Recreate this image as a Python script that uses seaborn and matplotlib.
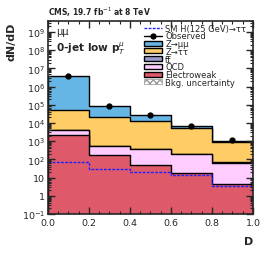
import matplotlib
matplotlib.use("Agg")
import matplotlib.pyplot as plt
import numpy as np
import pandas as pd
import seaborn as sns
from matplotlib.lines import Line2D
from matplotlib.patches import Patch
from matplotlib.ticker import LogLocator, NullFormatter, FixedLocator, FixedFormatter

# Data
edges = [0.0, 0.2, 0.4, 0.6, 0.8, 1.0]
centers = [0.1, 0.3, 0.5, 0.7, 0.9]
electroweak = [2200, 180, 51, 17, 4.2]
qcd = [1800, 370, 330, 180, 62]
ttbar = [100, 20, 10, 5, 2]
ztt = [46000, 20400, 12600, 5100, 832]
zmm = [3950000, 59000, 14000, 1500, 170]
signal = [75, 31, 21, 14, 3.3]
observed = [4.0e6, 9.0e4, 2.7e4, 7.0e3, 1.2e3]

processes = ["Electroweak", "QCD", "ttbar", "Ztt", "Zmm"]
colors = {"Electroweak": "#de5a6a", "QCD": "#ffccff", "ttbar": "#9999cc",
          "Ztt": "#ffcc66", "Zmm": "#65b5e5"}

sns.set_style("ticks")
plt.rcParams["font.family"] = ["DejaVu Sans"]

fig = plt.figure(figsize=(2.66, 2.55), dpi=100)
ax = fig.add_axes([0.180, 0.157, 0.771, 0.757])
ax.set_yscale("log")

# stacked backgrounds: draw cumulative totals from the top layer down
cum = np.zeros(len(centers))
totals = []
for name, vals in zip(processes, [electroweak, qcd, ttbar, ztt, zmm]):
    cum = cum + np.array(vals)
    totals.append((name, cum.copy()))
for name, tot in reversed(totals):
    sns.histplot(x=centers, weights=tot, bins=edges, element="step", fill=True,
                 color=colors[name], alpha=1, edgecolor="black", linewidth=1.0, ax=ax)

# signal
sns.histplot(x=centers, weights=signal, bins=edges, element="step", fill=False,
             color="#2020ff", linestyle=(0, (2, 1)), linewidth=1.0, ax=ax)

# observed
ax.errorbar(centers, observed, yerr=np.sqrt(observed), fmt="o", color="black",
            markersize=3.5, elinewidth=1, capsize=0, zorder=5)

ax.set_xlim(0, 1)
ax.set_ylim(0.1, 4e9)
ax.set_xlabel("")
ax.set_ylabel("")

ax.xaxis.set_major_locator(FixedLocator([0, 0.2, 0.4, 0.6, 0.8, 1.0]))
ax.xaxis.set_major_formatter(FixedFormatter(["0.0", "0.2", "0.4", "0.6", "0.8", "1.0"]))
ax.xaxis.set_minor_locator(FixedLocator(np.arange(0, 1.001, 0.05)))
ax.yaxis.set_minor_locator(LogLocator(base=10, subs=np.arange(2, 10), numticks=20))
ax.yaxis.set_minor_formatter(NullFormatter())
yt = [0.1, 1, 10, 1e2, 1e3, 1e4, 1e5, 1e6, 1e7, 1e8, 1e9]
ylab = ["$10^{-1}$", "1", "10", "$10^{2}$", "$10^{3}$", "$10^{4}$", "$10^{5}$",
        "$10^{6}$", "$10^{7}$", "$10^{8}$", "$10^{9}$"]
ax.yaxis.set_major_locator(FixedLocator(yt))
ax.yaxis.set_major_formatter(FixedFormatter(ylab))
ax.tick_params(which="both", direction="in", top=True, right=True, labelsize=6.8, pad=2)
ax.tick_params(axis="x", pad=3)
ax.tick_params(which="major", length=5, width=1)
ax.tick_params(which="minor", length=2.5, width=0.8)
for s in ax.spines.values():
    s.set_linewidth(1.2)
ax.set_axisbelow(False)

fig.text(0.180, 0.925, "CMS, 19.7 fb$^{-1}$ at 8 TeV", fontsize=5.5, fontweight="bold",
         ha="left", va="bottom")
ax.text(0.04, 0.975, "\u03bc\u03bc", transform=ax.transAxes, fontsize=7, ha="left", va="top")
ax.text(0.04, 0.905, "0-jet low p$_T^{\\mu}$", transform=ax.transAxes, fontsize=7.6,
        fontweight="bold", ha="left", va="top")
fig.text(0.045, 0.91, "dN/dD", rotation=90, fontsize=8, fontweight="bold",
         ha="center", va="top")
fig.text(0.935, 0.03, "D", fontsize=8, fontweight="bold", ha="center", va="bottom")

handles = [
    Line2D([], [], color="#2020ff", linestyle=(0, (2, 1)), linewidth=1),
    Line2D([], [], color="black", marker="o", markersize=3.5, linewidth=1),
    Patch(facecolor=colors["Zmm"], edgecolor="black"),
    Patch(facecolor=colors["Ztt"], edgecolor="black"),
    Patch(facecolor=colors["ttbar"], edgecolor="black"),
    Patch(facecolor=colors["QCD"], edgecolor="black"),
    Patch(facecolor=colors["Electroweak"], edgecolor="black"),
    Patch(facecolor="white", edgecolor="#999999", hatch="xxxxx", linewidth=0.5),
]
labels = ["SM H(125 GeV)\u2192\u03c4\u03c4", "Observed", "Z\u2192\u03bc\u03bc",
          "Z\u2192\u03c4\u03c4", "tt\u0305", "QCD", "Electroweak",
          "Bkg. uncertainty"]
ax.legend(handles, labels, loc="upper left", bbox_to_anchor=(0.46, 0.995), frameon=False,
          fontsize=6.0, handlelength=2.2, handleheight=0.55, labelspacing=-0.15,
          handletextpad=0.35, borderaxespad=0.0, borderpad=0.2)

fig.savefig("out.png", dpi=100)
